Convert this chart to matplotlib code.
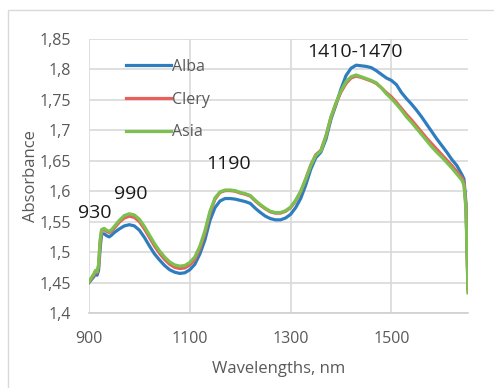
import numpy as np
import matplotlib
matplotlib.use("Agg")
import matplotlib.pyplot as plt
from matplotlib.patches import Rectangle
from matplotlib.ticker import FuncFormatter

plt.rcParams['font.family'] = ['Open Sans', 'DejaVu Sans']

wavelengths = [900, 905, 910, 913, 916, 919, 922, 925, 930, 935, 940, 945, 950,
               960, 970, 980, 990, 1000, 1010, 1020, 1030, 1040, 1050, 1060, 1070,
               1080, 1090, 1100, 1110, 1120, 1130, 1140, 1150, 1160, 1170, 1180,
               1190, 1200, 1210, 1220, 1230, 1240, 1250, 1260, 1270, 1280, 1290,
               1300, 1310, 1320, 1330, 1340, 1350, 1360, 1370, 1380, 1390, 1400,
               1410, 1420, 1430, 1440, 1450, 1460, 1470, 1480, 1490, 1500, 1510,
               1520, 1530, 1540, 1550, 1560, 1570, 1580, 1590, 1600, 1610, 1620,
               1630, 1640, 1644, 1648, 1652]

alba = [1.450, 1.455, 1.460, 1.468, 1.462, 1.470, 1.505, 1.530, 1.530, 1.527, 1.525,
        1.528, 1.532, 1.538, 1.543, 1.545, 1.543, 1.536, 1.524, 1.510, 1.497, 1.487,
        1.478, 1.471, 1.467, 1.465, 1.466, 1.471, 1.480, 1.497, 1.520, 1.552, 1.573,
        1.584, 1.588, 1.588, 1.587, 1.585, 1.583, 1.580, 1.572, 1.565, 1.559, 1.555,
        1.553, 1.553, 1.556, 1.562, 1.573, 1.588, 1.610, 1.636, 1.655, 1.664, 1.685,
        1.718, 1.742, 1.768, 1.790, 1.802, 1.807, 1.806, 1.805, 1.803, 1.798, 1.792,
        1.786, 1.782, 1.775, 1.762, 1.752, 1.743, 1.733, 1.722, 1.710, 1.698, 1.686,
        1.675, 1.664, 1.652, 1.642, 1.627, 1.620, 1.580, 1.440]

clery = [1.451, 1.457, 1.463, 1.469, 1.466, 1.476, 1.515, 1.535, 1.537, 1.534, 1.532,
         1.535, 1.539, 1.549, 1.556, 1.559, 1.557, 1.550, 1.538, 1.524, 1.510, 1.498,
         1.488, 1.480, 1.475, 1.473, 1.474, 1.479, 1.488, 1.506, 1.531, 1.564, 1.587,
         1.598, 1.601, 1.601, 1.600, 1.597, 1.595, 1.592, 1.584, 1.577, 1.571, 1.566,
         1.564, 1.564, 1.567, 1.573, 1.584, 1.599, 1.620, 1.643, 1.660, 1.667, 1.690,
         1.721, 1.744, 1.763, 1.777, 1.786, 1.789, 1.787, 1.784, 1.781, 1.777, 1.770,
         1.762, 1.755, 1.746, 1.736, 1.726, 1.717, 1.707, 1.697, 1.687, 1.678, 1.669,
         1.660, 1.651, 1.642, 1.632, 1.622, 1.614, 1.575, 1.436]

asia = [1.452, 1.458, 1.465, 1.470, 1.468, 1.480, 1.520, 1.537, 1.539, 1.536, 1.534,
        1.537, 1.542, 1.552, 1.560, 1.563, 1.561, 1.554, 1.542, 1.528, 1.514, 1.502,
        1.492, 1.484, 1.479, 1.477, 1.478, 1.483, 1.492, 1.510, 1.535, 1.567, 1.589,
        1.599, 1.602, 1.602, 1.601, 1.598, 1.596, 1.593, 1.585, 1.578, 1.572, 1.567,
        1.565, 1.565, 1.568, 1.574, 1.585, 1.600, 1.620, 1.642, 1.659, 1.666, 1.690,
        1.722, 1.745, 1.765, 1.780, 1.788, 1.791, 1.788, 1.785, 1.782, 1.778, 1.770,
        1.760, 1.752, 1.743, 1.733, 1.722, 1.713, 1.703, 1.693, 1.683, 1.673, 1.664,
        1.656, 1.647, 1.638, 1.628, 1.618, 1.610, 1.570, 1.433]

peak_labels = ["930", "990", "1190", "1410-1470"]
peak_x = [911, 983, 1176, 1428]
peak_y = [1.564, 1.595, 1.645, 1.828]

gray = '#595959'

fig = plt.figure(figsize=(4.94, 3.88), dpi=100)
fig.patches.append(Rectangle((8 / 494, -0.1), 1.2, 1.074, transform=fig.transFigure,
                             fill=False, edgecolor='#d9d9d9', linewidth=1))
ax = fig.add_axes([89 / 494, 1 - 313 / 388, 379 / 494, 274 / 388])

ax.plot(wavelengths, alba, color='#2e7ebf', linewidth=2.3, label='Alba')
ax.plot(wavelengths, clery, color='#e8605a', linewidth=2.3, label='Clery')
ax.plot(wavelengths, asia, color='#7cc150', linewidth=2.3, label='Asia')

for txt, x, y in zip(peak_labels, peak_x, peak_y):
    ax.text(x, y, txt, ha='center', va='center', fontsize=14, color='#1a1a1a')

ax.set_xlim(900, 1652)
ax.set_ylim(1.4, 1.85)
ax.set_xticks([900, 1100, 1300, 1500])
ax.set_yticks(np.arange(1.4, 1.851, 0.05))
ax.yaxis.set_major_formatter(FuncFormatter(lambda v, p: ('%.2f' % v).rstrip('0').replace('.', ',')))
ax.grid(True, color='#d9d9d9', linewidth=1.2)
ax.set_axisbelow(True)
for s in ['top', 'right', 'left']:
    ax.spines[s].set_visible(False)
ax.spines['bottom'].set_color('#d0d0d0')
ax.spines['bottom'].set_linewidth(1.2)
ax.tick_params(length=0, labelsize=11.5, labelcolor=gray)
ax.tick_params(axis='x', pad=13)
ax.tick_params(axis='y', pad=13)

ax.set_xlabel('Wavelengths, nm', fontsize=12, color=gray, labelpad=10)
ax.set_ylabel('Absorbance', fontsize=12, color=gray, labelpad=0)

ax.legend(loc='upper left', bbox_to_anchor=(0.06, 0.98), frameon=False,
          fontsize=11.5, labelcolor=gray, handlelength=2.8, handletextpad=0.1,
          labelspacing=1.05)

fig.savefig('out.png', dpi=100)
